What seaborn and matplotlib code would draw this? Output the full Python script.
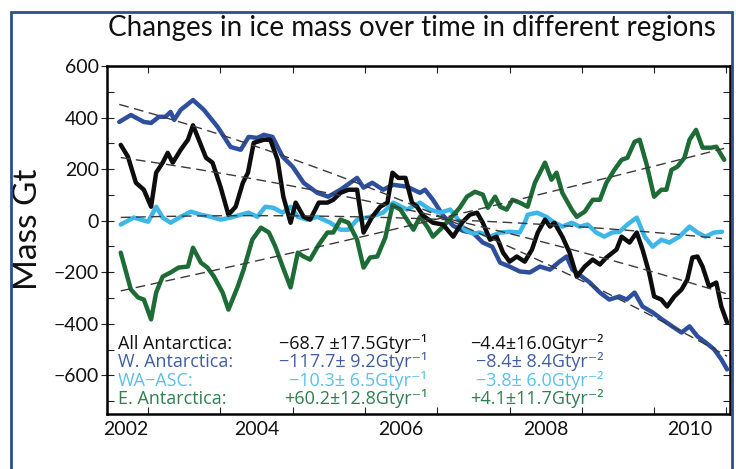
import numpy as np
import matplotlib
matplotlib.use("Agg")
import matplotlib.pyplot as plt
import matplotlib.transforms as mtransforms
from matplotlib.patches import Rectangle
from matplotlib.ticker import FixedLocator
import seaborn as sns

sns.set_theme(style="white")
plt.rcParams['font.family'] = ['Lato', 'DejaVu Sans']

# ---------------- data (decimal year, Gt) ----------------
t_all = [2002.12, 2002.22, 2002.33, 2002.44, 2002.54, 2002.61, 2002.70, 2002.77, 2002.84, 2002.95,
         2003.05, 2003.12, 2003.20, 2003.30, 2003.39, 2003.50, 2003.61, 2003.71, 2003.81, 2003.88,
         2003.96, 2004.10, 2004.19, 2004.29, 2004.37, 2004.47, 2004.54, 2004.65, 2004.74, 2004.86,
         2004.98, 2005.06, 2005.16, 2005.27, 2005.39, 2005.48, 2005.60, 2005.71, 2005.81, 2005.88,
         2005.96, 2006.06, 2006.15, 2006.22, 2006.30, 2006.44, 2006.58, 2006.72, 2006.84, 2006.95,
         2007.05, 2007.13, 2007.23, 2007.32, 2007.41, 2007.50, 2007.60, 2007.71, 2007.81, 2007.89,
         2007.99, 2008.06, 2008.12, 2008.23, 2008.33, 2008.43, 2008.54, 2008.65, 2008.75, 2008.84,
         2008.98, 2009.05, 2009.16, 2009.26, 2009.34, 2009.43, 2009.50, 2009.60, 2009.68, 2009.78,
         2009.88, 2009.96, 2010.03, 2010.10, 2010.17, 2010.26, 2010.36, 2010.43, 2010.51]
all_antarctica = [294, 248, 147, 120, 54, 186, 225, 263, 225, 275,
                  314, 370, 314, 244, 225, 132, 23, 54, 147, 186,
                  302, 314, 314, 236, 93, -8, 70, 15, 4, 70,
                  70, 81, 108, 120, 120, -46, 15, 54, 70, 186,
                  166, 166, 70, 54, 20, -8, -15, -62, -8, 23,
                  31, -8, -74, -62, -124, -159, -139, -159, -112, -46,
                  4, -23, -8, -62, -124, -217, -178, -151, -170, -143,
                  -112, -62, -85, -46, -112, -201, -294, -306, -333, -294,
                  -267, -228, -143, -139, -178, -255, -240, -333, -395]

t_west = [2002.10, 2002.26, 2002.44, 2002.54, 2002.65, 2002.74, 2002.81, 2002.86, 2002.95, 2003.12,
          2003.27, 2003.46, 2003.64, 2003.78, 2003.89, 2004.01, 2004.10, 2004.22, 2004.36, 2004.50,
          2004.65, 2004.84, 2004.99, 2005.16, 2005.39, 2005.48, 2005.60, 2005.75, 2005.89, 2006.08,
          2006.26, 2006.33, 2006.44, 2006.58, 2006.72, 2006.86, 2006.99, 2007.13, 2007.26, 2007.37,
          2007.50, 2007.64, 2007.78, 2007.92, 2008.06, 2008.19, 2008.29, 2008.37, 2008.50, 2008.61,
          2008.75, 2008.88, 2009.02, 2009.12, 2009.23, 2009.34, 2009.48, 2009.61, 2009.75, 2009.88,
          2009.99, 2010.10, 2010.21, 2010.33, 2010.43, 2010.51]
west_antarctica = [383, 410, 383, 379, 403, 403, 422, 391, 430, 468,
                   430, 364, 286, 275, 325, 321, 333, 325, 248, 209,
                   147, 108, 93, 120, 166, 128, 147, 120, 139, 132,
                   108, 120, 81, 20, -20, -40, -46, -85, -101, -163,
                   -178, -197, -201, -178, -190, -159, -139, -190, -217, -240,
                   -279, -306, -294, -306, -279, -333, -356, -383, -410, -434,
                   -410, -449, -472, -499, -538, -577]

t_asc = [2002.12, 2002.30, 2002.50, 2002.61, 2002.70, 2002.81, 2002.95, 2003.09, 2003.23, 2003.37,
         2003.50, 2003.64, 2003.78, 2003.89, 2004.01, 2004.12, 2004.23, 2004.36, 2004.47, 2004.57,
         2004.70, 2004.84, 2005.02, 2005.16, 2005.27, 2005.39, 2005.57, 2005.75, 2005.89, 2006.08,
         2006.26, 2006.40, 2006.54, 2006.68, 2006.79, 2006.88, 2006.99, 2007.09, 2007.23, 2007.37,
         2007.50, 2007.64, 2007.71, 2007.75, 2007.88, 2008.01, 2008.10, 2008.23, 2008.36, 2008.47,
         2008.58, 2008.70, 2008.81, 2008.92, 2009.02, 2009.13, 2009.26, 2009.37, 2009.48, 2009.60,
         2009.71, 2009.85, 2009.99, 2010.10, 2010.21, 2010.33, 2010.44]
wa_asc = [-15, 12, -4, 54, 12, -8, 15, 35, 23, 15,
          4, 12, 23, 31, 15, 54, 50, 31, 54, 15,
          4, 15, -8, -35, -35, 4, 15, 31, 70, 43,
          70, 43, 31, 43, 4, -35, -50, -46, -62, -46,
          -43, -46, -8, 23, 31, 15, -4, -23, -8, -23,
          -15, -46, -62, -46, -43, -15, 12, -62, -101, -74,
          -85, -62, -23, -46, -62, -46, -43]

t_east = [2002.12, 2002.26, 2002.36, 2002.44, 2002.54, 2002.61, 2002.70, 2002.81, 2002.92, 2003.05,
          2003.12, 2003.23, 2003.32, 2003.41, 2003.53, 2003.61, 2003.74, 2003.82, 2003.94, 2004.06,
          2004.17, 2004.26, 2004.36, 2004.47, 2004.57, 2004.65, 2004.74, 2004.86, 2004.98, 2005.06,
          2005.16, 2005.27, 2005.39, 2005.48, 2005.57, 2005.67, 2005.78, 2005.88, 2005.99, 2006.08,
          2006.17, 2006.26, 2006.36, 2006.44, 2006.58, 2006.70, 2006.81, 2006.91, 2007.02, 2007.13,
          2007.20, 2007.30, 2007.37, 2007.46, 2007.54, 2007.64, 2007.75, 2007.85, 2007.99, 2008.08,
          2008.15, 2008.23, 2008.36, 2008.43, 2008.54, 2008.65, 2008.75, 2008.84, 2008.95, 2009.05,
          2009.13, 2009.23, 2009.30, 2009.39, 2009.50, 2009.60, 2009.67, 2009.74, 2009.82, 2009.92,
          2009.99, 2010.08, 2010.17, 2010.29, 2010.36, 2010.47]
east_antarctica = [-124, -267, -298, -306, -383, -279, -217, -201, -182, -178,
                   -105, -163, -182, -217, -279, -345, -255, -190, -74, -27,
                   -46, -101, -178, -259, -124, -139, -151, -93, -46, -46,
                   4, -8, -74, -182, -143, -139, -66, 60, 43, 4,
                   -35, 15, -23, -62, -23, 15, 50, 93, 112, 101,
                   50, 93, 54, 43, 81, 70, 54, 147, 225, 159,
                   186, 108, 43, 15, 35, 81, 81, 147, 197, 236,
                   244, 306, 314, 225, 93, 120, 120, 197, 209, 244,
                   314, 352, 283, 283, 287, 236]

region_labels = ["All Antarctica:", "W. Antarctica:", "WA\u2212ASC:", "E. Antarctica:"]
rate_text = ["\u221268.7 \u00b117.5Gtyr\u207b\u00b9", "\u2212117.7\u00b1 9.2Gtyr\u207b\u00b9",
             "\u221210.3\u00b1 6.5Gtyr\u207b\u00b9", "+60.2\u00b112.8Gtyr\u207b\u00b9"]
accel_text = ["\u22124.4\u00b116.0Gtyr\u207b\u00b2", "\u22128.4\u00b1 8.4Gtyr\u207b\u00b2",
              "\u22123.8\u00b1 6.0Gtyr\u207b\u00b2", "+4.1\u00b111.7Gtyr\u207b\u00b2"]
x_tick_years = [2002, 2004, 2006, 2008, 2010]
y_ticks = [-600, -400, -200, 0, 200, 400, 600]
y_minor_ticks = list(range(-700, 601, 100))
title = "Changes in ice mass over time in different regions"

line_colors = ["#0d0d0d", "#2d4f9e", "#3db6e8", "#1d6b35"]
text_colors = ["#111111", "#3f5f9f", "#5cc0e8", "#2f7f4f"]

# ---------------- figure ----------------
fig = plt.figure(figsize=(7.36, 4.69), dpi=100)
fig.patch.set_facecolor("white")
ax = fig.add_axes([107/736, 1-414/469, (730-107)/736, (414-66)/469])

series = [(t_west, west_antarctica, line_colors[1]),
          (t_asc, wa_asc, line_colors[2]),
          (t_east, east_antarctica, line_colors[3]),
          (t_all, all_antarctica, line_colors[0])]

for t, v, c in series:
    sns.lineplot(x=t, y=v, color=c, lw=3.2, ax=ax, zorder=3)

for t, v, c in series:
    sns.regplot(x=np.array(t), y=np.array(v, dtype=float), order=2, scatter=False, ci=None,
                truncate=True, ax=ax,
                line_kws=dict(color="#3a3a3a", lw=1.0, ls=(0, (7, 4)), zorder=4))

ax.set_xlim(2001.93, 2010.55)
ax.set_ylim(-750, 600)
ax.set_xlabel("")
ax.set_ylabel("Mass Gt", fontsize=24, labelpad=7.5, color="#111111")
ax.yaxis.label.set_y(0.53)

ax.set_xticks(x_tick_years)
ax.set_xticklabels([str(y) for y in x_tick_years], fontsize=14, color="#111111")
ax.xaxis.set_minor_locator(FixedLocator(np.arange(2002.5, 2010.6, 1.0)))
ax.tick_params(axis="x", which="major", length=0, pad=5)
ax.tick_params(axis="x", which="minor", direction="in", length=5, width=0.8,
               bottom=True, top=True, color="#222222")

ax.set_yticks(y_ticks)
ax.set_yticklabels([f"{v}".replace("-", "\u2212") for v in y_ticks], fontsize=14, color="#111111")
ax.yaxis.set_minor_locator(FixedLocator(y_minor_ticks))
ax.yaxis.remove_overlapping_locs = False
ax.tick_params(axis="y", which="major", direction="out", length=4, width=0.8, pad=2,
               left=True, right=False, color="#222222")
ax.tick_params(axis="y", which="minor", direction="in", length=5, width=0.8,
               left=True, right=True, color="#222222")

# shift first x label to the right like the reference
first = ax.get_xticklabels()[0]
first.set_transform(first.get_transform() + mtransforms.ScaledTranslation(14/100, 0, fig.dpi_scale_trans))

for s in ax.spines.values():
    s.set_visible(True)
    s.set_color("black")
    s.set_linewidth(1.8)

# statistics text block
block_font = ["Open Sans", "DejaVu Sans"]
rows_y = [0.187, 0.134, 0.081, 0.028]
for i in range(4):
    ax.text(0.018, rows_y[i], region_labels[i], transform=ax.transAxes, ha="left",
            va="baseline", fontsize=13, family=block_font, color=text_colors[i], zorder=6)
    ax.text(0.514, rows_y[i], rate_text[i], transform=ax.transAxes, ha="right",
            va="baseline", fontsize=13, family=block_font, color=text_colors[i], zorder=6)
    ax.text(0.797, rows_y[i], accel_text[i], transform=ax.transAxes, ha="right",
            va="baseline", fontsize=13, family=block_font, color=text_colors[i], zorder=6)

fig.text(412/736, 1-28/469, title, ha="center", va="center", fontsize=20, color="#111111")

fig.add_artist(Rectangle((11/736, -0.05), (732-11)/736, 1-12/469+0.05,
                         transform=fig.transFigure, fill=False, ec="#2c4f8c", lw=2))

fig.savefig("out.png", dpi=100)
